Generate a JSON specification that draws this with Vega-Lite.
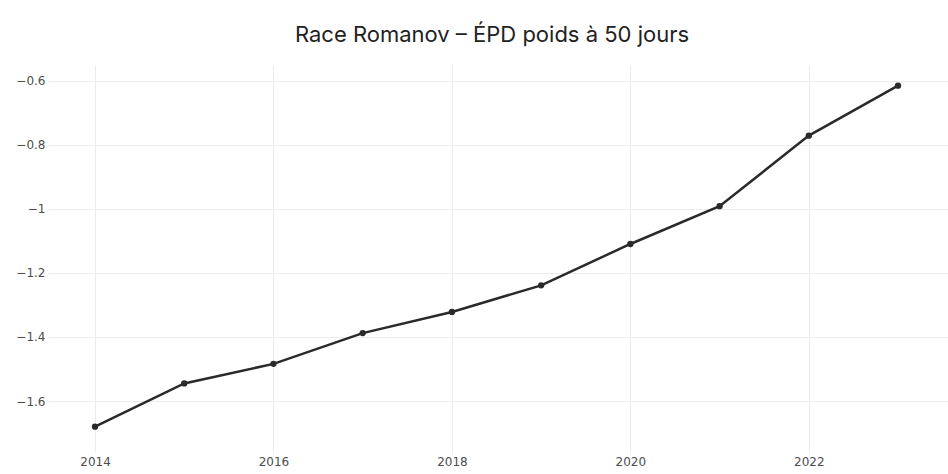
{
  "$schema": "https://vega.github.io/schema/vega-lite/v6.json",
  "autosize": {"type": "none"},
  "width": 900,
  "height": 387,
  "padding": {"left": 48, "top": 65, "right": 0, "bottom": 22},
  "background": "white",
  "title": {
    "text": "Race Romanov – ÉPD poids à 50 jours",
    "font": "Inter",
    "fontSize": 22,
    "fontWeight": "normal",
    "color": "#222222",
    "anchor": "middle",
    "dx": -6,
    "offset": 18
  },
  "data": {
    "values": [
      {"annee": 2014, "epd": -1.680},
      {"annee": 2015, "epd": -1.545},
      {"annee": 2016, "epd": -1.484},
      {"annee": 2017, "epd": -1.388},
      {"annee": 2018, "epd": -1.322},
      {"annee": 2019, "epd": -1.239},
      {"annee": 2020, "epd": -1.110},
      {"annee": 2021, "epd": -0.992},
      {"annee": 2022, "epd": -0.772},
      {"annee": 2023, "epd": -0.616}
    ]
  },
  "encoding": {
    "x": {
      "field": "annee",
      "type": "quantitative",
      "scale": {"domain": [2013.473, 2023.56], "nice": false, "zero": false},
      "axis": {
        "title": null,
        "values": [2014, 2016, 2018, 2020, 2022],
        "format": "d",
        "domain": false,
        "ticks": false,
        "labelPadding": 4,
        "labelFont": "DejaVu Sans",
        "labelFontSize": 12,
        "labelColor": "#4d4d4d",
        "gridColor": "#ebebeb",
        "gridWidth": 1
      }
    },
    "y": {
      "field": "epd",
      "type": "quantitative",
      "scale": {"domain": [-1.759, -0.5516], "nice": false, "zero": false},
      "axis": {
        "title": null,
        "values": [-1.6, -1.4, -1.2, -1, -0.8, -0.6],
        "format": ".1~f",
        "domain": false,
        "ticks": false,
        "labelPadding": 3,
        "labelFont": "DejaVu Sans",
        "labelFontSize": 12,
        "labelColor": "#4d4d4d",
        "gridColor": "#ebebeb",
        "gridWidth": 1
      }
    }
  },
  "layer": [
    {"mark": {"type": "line", "color": "#2a2a2a", "strokeWidth": 2.5}},
    {"mark": {"type": "point", "filled": true, "color": "#2a2a2a", "size": 40, "opacity": 1}}
  ],
  "config": {"view": {"stroke": null}}
}
